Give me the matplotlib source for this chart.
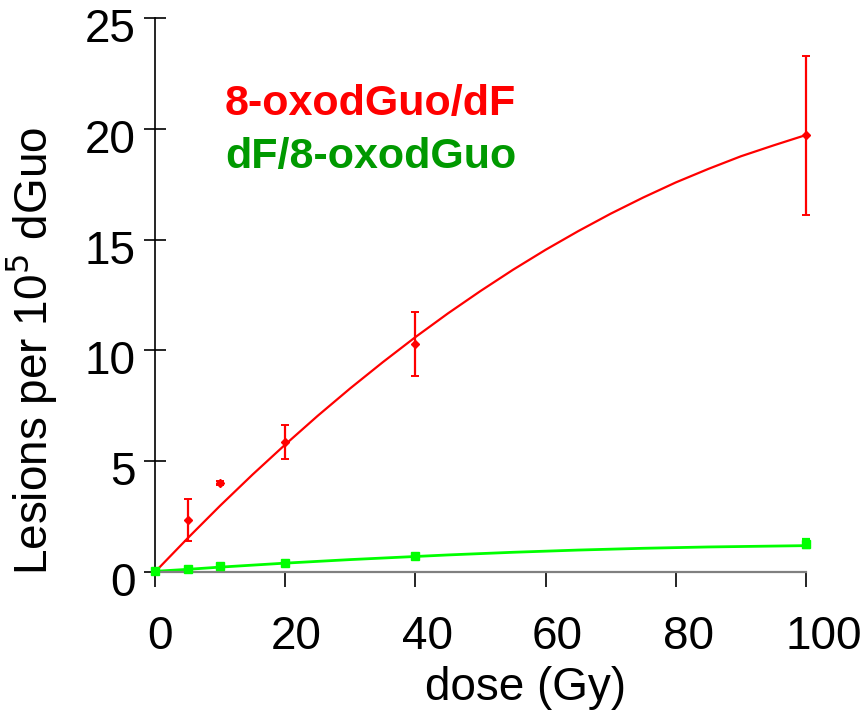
import matplotlib
matplotlib.use("Agg")
import matplotlib.pyplot as plt
from matplotlib.transforms import ScaledTranslation

# data
dose = [0, 5, 10, 20, 40, 100]
red_y = [0.05, 2.35, 4.02, 5.87, 10.3, 19.7]
red_err = [0.0, 0.95, 0.1, 0.75, 1.45, 3.6]
green_y = [0.05, 0.14, 0.27, 0.40, 0.72, 1.28]
green_err = [0.0, 0.0, 0.0, 0.0, 0.0, 0.2]
fit_x = [0, 5, 10, 15, 20, 25, 30, 35, 40, 45, 50, 55, 60, 65, 70, 75, 80, 85, 90, 95, 100]
red_fit = [0.0, 1.52, 2.99, 4.40, 5.75, 7.05, 8.29, 9.47, 10.60, 11.67, 12.68,
           13.64, 14.54, 15.38, 16.17, 16.90, 17.58, 18.19, 18.76, 19.25, 19.72]
green_fit = [0.03, 0.12, 0.22, 0.31, 0.40, 0.48, 0.56, 0.63, 0.70, 0.77, 0.83,
             0.89, 0.94, 0.99, 1.03, 1.07, 1.10, 1.13, 1.15, 1.17, 1.19]
xticks = [0, 20, 40, 60, 80, 100]
yticks = [0, 5, 10, 15, 20, 25]

plt.rcParams['font.family'] = ['Liberation Sans', 'DejaVu Sans']

fig = plt.figure(figsize=(8.63, 7.13), dpi=100)
ax = fig.add_axes([155/863, 1-572/713, (806-155)/863, (572-18)/713])

RED = '#FF0000'
GREEN = '#00FF00'

ax.plot(fit_x, red_fit, color=RED, lw=1.6, zorder=2)
ax.plot(fit_x, green_fit, color=GREEN, lw=2.0, zorder=2)
ax.errorbar(dose, red_y, yerr=red_err, fmt='D', ms=4, color=RED, ecolor=RED,
            elinewidth=1.6, capsize=3, capthick=1.4, zorder=3, clip_on=False)
ax.errorbar(dose, green_y, yerr=green_err, fmt='s', ms=6, color=GREEN, ecolor=GREEN,
            elinewidth=2, capsize=3, capthick=1.6, zorder=3, clip_on=False)

ax.set_xlim(0, 100)
ax.set_ylim(0, 25)
ax.set_xticks(xticks)
ax.set_yticks(yticks)
ax.spines['top'].set_visible(False)
ax.spines['right'].set_visible(False)
ax.spines['bottom'].set_color('#808080')
ax.spines['bottom'].set_linewidth(1.6)
ax.spines['left'].set_color('black')
ax.spines['left'].set_linewidth(1.2)
ax.tick_params(axis='y', direction='inout', length=16, width=1.2, labelsize=33, pad=6)
ax.tick_params(axis='x', direction='out', length=11, width=1.2, labelsize=33, pad=20)

x_label_shift = [5, 11, 12, 12, 13, 18]
for lab, dx in zip(ax.get_xticklabels(), x_label_shift):
    lab.set_transform(lab.get_transform() + ScaledTranslation(dx/100, 0, fig.dpi_scale_trans))
for lab in ax.get_yticklabels():
    lab.set_transform(lab.get_transform() + ScaledTranslation(0, -7/100, fig.dpi_scale_trans))

ax.set_xlabel('dose (Gy)', fontsize=33)
ax.xaxis.set_label_coords((526-155)/651, (572-666)/554)
ax.set_ylabel('Lesions per 10$^5$ dGuo', fontsize=33)
ax.yaxis.set_label_coords((60-155)/651, (572-351)/554)

ax.text((225-155)/651, (572-115)/554, '8-oxodGuo/dF', transform=ax.transAxes, color=RED,
        fontsize=31, fontweight='bold', ha='left', va='baseline')
ax.text((225-155)/651, (572-168)/554, 'dF/8-oxodGuo', transform=ax.transAxes, color='#009900',
        fontsize=31, fontweight='bold', ha='left', va='baseline')

fig.savefig('out.png', dpi=100)
